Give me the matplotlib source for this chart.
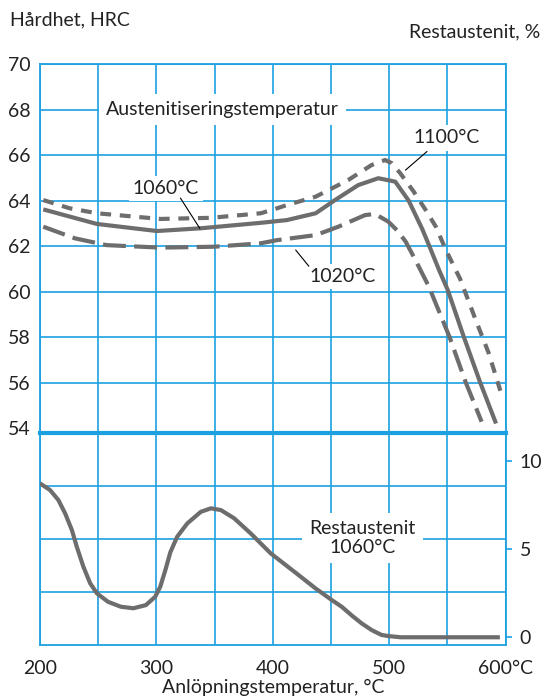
import numpy as np
import matplotlib
matplotlib.use("Agg")
from matplotlib import pyplot as plt

plt.rcParams['font.family'] = ['Lato', 'DejaVu Sans']

BLUE = '#1ba1e2'
GRAY = '#6d6d6d'
TXT = '#222222'
FS = 14

# hardness curves (anlöpningstemperatur, HRC)
t_1060 = [202.8, 248.9, 300.4, 338.1, 389.6, 412.0, 436.8, 453.4, 473.4, 490.6, 505.1, 516.6, 528.3, 534.4, 542.8, 550.2, 564.0, 577.9, 591.7]
hrc_1060 = [63.61, 62.97, 62.66, 62.78, 63.02, 63.14, 63.44, 64.02, 64.68, 64.98, 64.83, 64.0, 62.75, 62.0, 60.94, 60.07, 58.01, 56.03, 54.2]

t_1100 = [202.8, 225.4, 248.9, 303.3, 346.8, 389.6, 403.7, 412.0, 436.8, 464.7, 484.8, 496.4, 502.2, 509.4, 521.0, 531.3, 540.0, 548.7, 560.9, 573.2, 585.5, 595.4]
hrc_1100 = [64.02, 63.66, 63.44, 63.19, 63.24, 63.44, 63.66, 63.8, 64.17, 64.9, 65.56, 65.78, 65.64, 65.2, 64.39, 63.58, 62.85, 61.82, 60.55, 58.89, 57.28, 55.64]

t_1020 = [202.8, 229.9, 257.1, 303.3, 349.7, 389.6, 403.7, 436.8, 456.3, 479.2, 487.8, 499.2, 506.5, 514.0, 522.5, 534.1, 539.9, 551.7, 565.5, 579.3]
hrc_1020 = [62.85, 62.34, 62.04, 61.93, 61.97, 62.12, 62.26, 62.48, 62.85, 63.36, 63.41, 63.07, 62.7, 62.2, 61.38, 60.21, 59.48, 58.01, 56.03, 54.28]

# restaustenit, 1060 C
t_ra = [200, 208.6, 215.8, 221.6, 227.4, 231.6, 237.3, 243.1, 248.9, 258.4, 269.3, 280.1, 290.9, 299.0, 303.3, 307.7,
        311.9, 317.8, 326.5, 338.1, 346.8, 355.4, 366.8, 381.0, 398.1, 420.2, 436.7, 450.6, 459.1, 468.0, 476.3, 484.9,
        493.4, 499.2, 510, 595]
ra = [8.73, 8.35, 7.78, 7.02, 6.07, 5.12, 3.98, 3.04, 2.47, 1.99, 1.71, 1.62, 1.80, 2.28, 2.85, 3.8,
      4.8, 5.69, 6.45, 7.11, 7.31, 7.21, 6.74, 5.88, 4.75, 3.61, 2.75, 2.09, 1.71, 1.2, 0.76, 0.38,
      0.10, 0.04, -0.03, -0.03]

hrc_ticks = [54, 56, 58, 60, 62, 64, 66, 68, 70]
ra_ticks = [0, 5, 10]
x_ticks = [200, 300, 400, 500, 600]
x_ticklabels = ['200', '300', '400', '500', '600°C']

fig = plt.figure(figsize=(5.43, 7.0), dpi=100)
L = 40 / 543
W = 465.7 / 543
ax = fig.add_axes([L, 1 - 433.3 / 700, W, (433.3 - 64) / 700])
ax2 = fig.add_axes([L, 1 - 645 / 700, W, (645 - 433.3) / 700])

# top panel
ax.set_xlim(200, 600)
ax.set_ylim(53.77, 70)
ax.set_xticks(np.arange(200, 601, 50))
ax.set_yticks(hrc_ticks)
ax.set_yticklabels([str(v) for v in hrc_ticks])
ax.tick_params(axis='y', length=0, pad=7, labelsize=FS, labelcolor=TXT)
ax.tick_params(axis='x', length=0, labelbottom=False)
ax.grid(True, color=BLUE, lw=1.2)
ax.yaxis.get_gridlines()[0].set_visible(False)
for s in ax.spines.values():
    s.set_color(BLUE)
    s.set_linewidth(1.3)
ax.spines['bottom'].set_visible(False)

ax.plot(t_1100, hrc_1100, color=GRAY, lw=3, dashes=(2.6, 2.1), dash_capstyle='butt', solid_joinstyle='round', zorder=3)
ax.plot(t_1060, hrc_1060, color=GRAY, lw=3, solid_capstyle='butt', solid_joinstyle='round', zorder=3)
ax.plot(t_1020, hrc_1020, color=GRAY, lw=3, dashes=(5.5, 2.0), dash_capstyle='butt', zorder=3)

box = dict(facecolor='white', edgecolor='none', pad=3)
ax.text(356.8, 68, 'Austenitiseringstemperatur', ha='center', va='center', fontsize=FS, color=TXT,
        bbox=dict(facecolor='white', edgecolor='none', pad=5), zorder=4)
ax.text(549.3, 66.75, '1100°C', ha='center', va='center', fontsize=FS, color=TXT, bbox=box, zorder=4)
ax.plot([532.3, 514], [66.15, 65.34], color='black', lw=0.8, zorder=4)
ax.text(308, 64.54, '1060°C', ha='center', va='center', fontsize=FS, color=TXT, bbox=box, zorder=4)
ax.plot([320.7, 337.2], [64.1, 62.78], color='black', lw=0.8, zorder=4)
ax.text(460.1, 60.65, '1020°C', ha='center', va='center', fontsize=FS, color=TXT, bbox=box, zorder=4)
ax.plot([419.7, 430.8], [61.82, 61.12], color='black', lw=0.8, zorder=4)

# bottom panel
ax2.set_xlim(200, 600)
lo, hi = -0.47, 11.58
ax2.set_ylim(lo, hi)
ax2.set_xticks(np.arange(200, 601, 50), minor=True)
ax2.set_xticks(x_ticks)
ax2.set_xticklabels(x_ticklabels)
ax2.set_yticks(ra_ticks)
ax2.set_yticks(np.linspace(lo, hi, 5)[1:-1], minor=True)
ax2.yaxis.tick_right()
ax2.tick_params(axis='y', which='major', length=4, width=1.2, color=BLUE, pad=6, labelsize=FS, labelcolor=TXT)
ax2.tick_params(axis='y', which='minor', length=0)
ax2.tick_params(axis='x', which='both', length=0, pad=11, labelsize=FS, labelcolor=TXT)
ax2.grid(True, which='minor', color=BLUE, lw=1.2)
ax2.grid(True, which='major', axis='x', color=BLUE, lw=1.2)
for s in ax2.spines.values():
    s.set_color(BLUE)
    s.set_linewidth(1.3)
ax2.spines['top'].set_linewidth(3)

ax2.plot(t_ra, ra, color=GRAY, lw=3, solid_capstyle='butt', solid_joinstyle='round', zorder=3)
ax2.text(477.1, 5.62, 'Restaustenit\n1060°C', ha='center', va='center', fontsize=FS, color=TXT,
         linespacing=1.1, bbox=dict(facecolor='white', edgecolor='none', pad=5), zorder=4)
ax2.set_xlabel('Anlöpningstemperatur, °C', fontsize=FS, color=TXT, labelpad=1)

fig.text(10 / 543, 1 - 20 / 700, 'Hårdhet, HRC', ha='left', va='center', fontsize=FS, color=TXT)
fig.text(540 / 543, 1 - 32 / 700, 'Restaustenit, %', ha='right', va='center', fontsize=FS, color=TXT)

fig.savefig('out.png', dpi=100)
